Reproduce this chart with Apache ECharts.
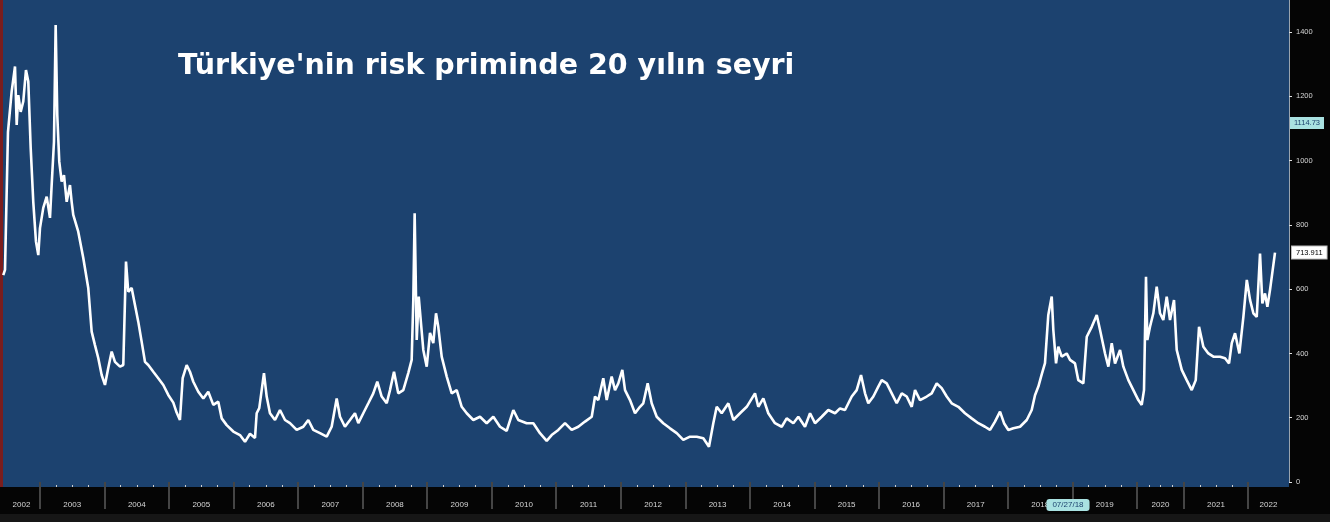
<!DOCTYPE html>
<html>
<head>
<meta charset="utf-8">
<script src="https://cdn.jsdelivr.net/npm/echarts@6/dist/echarts.min.js"></script>
<style>
html,body{margin:0;padding:0;background:#050505;}
#chart{width:1330px;height:522px;}
</style>
</head>
<body>
<div id="chart"></div>
<script>
// ---- data (x = position on the chart's time axis, in years) ----
const years = [
2002.431,2002.458,2002.504,2002.561,2002.613,2002.639,2002.664,2002.701,2002.741,2002.783,2002.819,2002.856,2002.896,2002.938,2002.974,
2003.000,2003.051,2003.104,2003.155,2003.181,2003.217,2003.243,2003.268,2003.299,2003.336,2003.372,2003.414,2003.465,2003.491,2003.516,2003.593,2003.671,2003.748,2003.801,2003.852,2003.903,2003.956,
2004.007,2004.058,2004.111,2004.162,2004.240,2004.291,2004.333,2004.368,2004.421,2004.472,2004.523,2004.576,2004.627,2004.678,2004.756,2004.833,2004.911,2004.988,
2005.066,2005.118,2005.169,2005.211,2005.273,2005.324,2005.376,2005.453,2005.531,2005.608,2005.686,2005.763,2005.816,2005.893,2005.996,
2006.099,2006.177,2006.254,2006.332,2006.358,2006.398,2006.471,2006.513,2006.564,2006.642,2006.719,2006.797,2006.874,2006.978,
2007.080,2007.158,2007.235,2007.339,2007.443,2007.520,2007.598,2007.649,2007.726,2007.804,2007.881,2007.933,
2008.010,2008.088,2008.165,2008.227,2008.295,2008.373,2008.424,2008.486,2008.552,2008.630,2008.707,2008.760,2008.785,2008.806,2008.838,2008.869,2008.900,2008.940,2008.993,
2009.044,2009.095,2009.137,2009.172,2009.225,2009.303,2009.380,2009.458,2009.535,2009.613,2009.715,2009.819,2009.922,
2010.025,2010.129,2010.232,2010.335,2010.412,2010.542,2010.645,2010.748,2010.852,2010.929,
2011.032,2011.136,2011.239,2011.342,2011.446,2011.550,2011.601,2011.652,2011.729,2011.782,2011.859,2011.911,2011.962,
2012.024,2012.066,2012.143,2012.221,2012.298,2012.349,2012.417,2012.479,2012.557,2012.659,2012.763,2012.867,2012.969,
2013.073,2013.177,2013.279,2013.367,2013.434,2013.487,2013.564,2013.667,2013.744,2013.848,2013.952,
2014.080,2014.131,2014.209,2014.286,2014.390,2014.494,2014.571,2014.674,2014.751,2014.855,2014.933,
2015.010,2015.114,2015.216,2015.320,2015.397,2015.475,2015.579,2015.656,2015.723,2015.785,2015.836,2015.914,2015.991,
2016.044,2016.121,2016.199,2016.276,2016.354,2016.431,2016.509,2016.560,2016.637,2016.741,2016.818,2016.896,2016.973,
2017.051,2017.128,2017.231,2017.334,2017.438,2017.541,2017.644,2017.722,2017.799,2017.877,2017.939,
2018.006,2018.083,2018.187,2018.291,2018.368,2018.419,2018.471,2018.523,2018.574,2018.625,2018.678,2018.703,2018.745,2018.780,2018.833,2018.910,2018.962,
2019.039,2019.090,2019.168,2019.221,2019.298,2019.376,2019.427,2019.504,2019.556,2019.608,2019.659,2019.737,2019.788,2019.866,2019.943,
2020.020,2020.073,2020.108,2020.139,2020.160,2020.201,2020.253,2020.305,2020.356,2020.407,2020.460,2020.511,2020.573,2020.615,2020.693,2020.770,2020.848,2020.910,2020.961,
2021.028,2021.105,2021.183,2021.286,2021.364,2021.426,2021.468,2021.519,2021.586,2021.648,2021.701,2021.752,2021.803,2021.855,2021.906,2021.942,2021.983,
2022.020,2022.061,2022.138
];
const spread = [
644,660,1089,1215,1293,1111,1204,1152,1184,1282,1246,1040,872,748,706,
790,853,888,822,924,1059,1422,1142,997,935,955,872,924,872,831,779,697,604,468,426,386,333,
302,355,406,374,359,364,686,592,604,551,499,436,374,364,343,323,302,271,
247,216,193,323,364,343,312,281,260,281,240,250,198,177,157,
146,125,150,137,214,230,339,266,214,193,224,193,183,162,
172,193,162,152,141,172,260,203,172,193,214,183,
214,245,276,312,266,245,286,343,276,286,339,380,566,836,442,577,504,411,359,
464,432,525,483,390,328,276,286,234,214,193,203,183,
203,172,159,224,193,183,183,152,128,146,
162,183,162,172,188,203,266,255,323,255,328,286,307,
349,286,255,214,234,245,307,245,203,183,167,152,131,
141,141,136,110,183,234,214,245,193,214,234,
276,234,260,214,183,172,198,183,203,172,214,
183,203,224,214,229,224,266,286,333,276,245,266,297,
317,307,276,245,276,266,234,286,255,266,276,307,292,
266,245,234,214,198,183,172,162,188,219,183,
162,167,172,193,224,270,297,335,370,520,577,473,369,421,390,400,380,
369,317,307,452,483,520,473,400,359,432,369,411,359,317,286,
255,240,286,639,442,483,525,608,525,504,577,504,566,411,349,317,286,317,483,
421,400,390,390,385,369,432,463,400,514,629,566,525,514,711,556,587,
545,598,713.911
];
// year separators on the time axis as drawn in the picture, and their labels
const yearStarts = [2003,2004,2005,2006,2007,2008,2009,2010,2011,2012,2013,2014,2015,2016,2017,2018,2019,2020,2020.728,2021.720];
const yearLabels = ['2002','2003','2004','2005','2006','2007','2008','2009','2010','2011','2012','2013','2014','2015','2016','2017','2018','2019','2020','2021','2022'];
const xMin = 2002.427, xMax = 2022.355;
const yTicks = [0,200,400,600,800,1000,1200,1400];
const otherLast = {value: 1117, text: '1114.73'};
const cursorDate = {value: 2018.93, text: '07/27/18'};
const titleText = "Türkiye'nin risk priminde 20 yılın seyri";

// ---- derived ----
const bounds = [xMin].concat(yearStarts, [xMax]);
const labelPos = [];
for (let i = 0; i < bounds.length - 1; i++) labelPos.push((bounds[i] + bounds[i + 1]) / 2);
const quarterTicks = [];
for (let i = 1; i < bounds.length - 2; i++) {
  for (let q = 1; q < 4; q++) quarterTicks.push(bounds[i] + (bounds[i + 1] - bounds[i]) * q / 4);
}
const seriesData = years.map((y, i) => [y, spread[i]]);
const lastVal = spread[spread.length - 1];

const chart = echarts.init(document.getElementById('chart'), null, {renderer: 'canvas'});
chart.setOption({
  backgroundColor: '#050505',
  animation: false,
  title: {
    text: titleText, left: 173, top: 47,
    textStyle: {color: '#ffffff', fontSize: 28.5, fontWeight: 'bold', fontFamily: 'DejaVu Sans'}
  },
  graphic: [
    {type: 'rect', z: -10, shape: {x: 3, y: 0, width: 1286, height: 487}, style: {fill: '#1c426f'}},
    {type: 'rect', z: -10, shape: {x: 0, y: 0, width: 3, height: 487}, style: {fill: '#7a1d1d'}},
    {type: 'rect', z: -10, shape: {x: 0, y: 514, width: 1330, height: 8}, style: {fill: '#161616'}}
  ],
  grid: {left: 3, right: 41, top: 0, bottom: 40, containLabel: false},
  xAxis: [
    {
      type: 'value', min: xMin, max: xMax, offset: 5,
      axisLine: {show: false},
      splitLine: {show: false},
      axisTick: {show: true, customValues: yearStarts, length: 27, inside: false,
                 lineStyle: {color: '#454545', width: 2}},
      axisLabel: {show: true, customValues: labelPos, margin: 14, color: '#d6d6d6',
                  fontSize: 8, fontFamily: 'Liberation Sans',
                  formatter: function (v) {
                    let best = 0;
                    for (let i = 1; i < labelPos.length; i++) if (Math.abs(labelPos[i] - v) < Math.abs(labelPos[best] - v)) best = i;
                    return yearLabels[best];
                  }},
      axisPointer: {show: true, status: 'show', value: cursorDate.value, type: 'line', triggerTooltip: false,
                    lineStyle: {opacity: 0},
                    label: {show: true, formatter: function () { return cursorDate.text; },
                            backgroundColor: '#a9e2e2', color: '#1d436e', fontSize: 8,
                            fontFamily: 'Liberation Sans', padding: [2, 6], margin: 12}}
    },
    {
      type: 'value', min: xMin, max: xMax, offset: 5, position: 'bottom',
      axisLine: {show: false}, splitLine: {show: false}, axisLabel: {show: false},
      axisTick: {show: true, customValues: quarterTicks, inside: true, length: 2,
                 lineStyle: {color: '#d0d0d0', width: 1}}
    }
  ],
  yAxis: {
    type: 'value', position: 'right', min: 0, max: 1500,
    axisLine: {show: true, lineStyle: {color: '#9aa4ae', width: 1}},
    splitLine: {show: false},
    axisTick: {show: true, customValues: yTicks, length: 3, lineStyle: {color: '#e0e0e0'}},
    minorTick: {show: false},
    axisLabel: {show: true, customValues: yTicks, margin: 7, color: '#d6d6d6',
                fontSize: 7.5, fontFamily: 'Liberation Sans',
                formatter: function (v) { return String(v); }}
  },
  series: [{
    type: 'line',
    data: seriesData,
    showSymbol: false,
    symbol: 'none',
    xAxisIndex: 0,
    lineStyle: {color: '#ffffff', width: 2.6},
    markLine: {
      silent: true, symbol: 'none', animation: false,
      lineStyle: {color: 'rgba(0,0,0,0)', width: 0, opacity: 1},
      data: [
        {yAxis: otherLast.value,
         label: {show: true, position: 'end', distance: 1, formatter: otherLast.text,
                 backgroundColor: '#a9e2e2', color: '#1d436e', fontSize: 7.5,
                 fontFamily: 'Liberation Sans', padding: [2, 4], opacity: 1}},
        {yAxis: lastVal,
         label: {show: true, position: 'end', distance: 3, formatter: lastVal.toFixed(3),
                 backgroundColor: '#ffffff', color: '#000000', fontSize: 7.5,
                 fontFamily: 'Liberation Sans', padding: [2, 4], opacity: 1,
                 borderColor: '#bbbbbb', borderWidth: 1}}
      ]
    }
  }]
});
</script>
</body>
</html>
